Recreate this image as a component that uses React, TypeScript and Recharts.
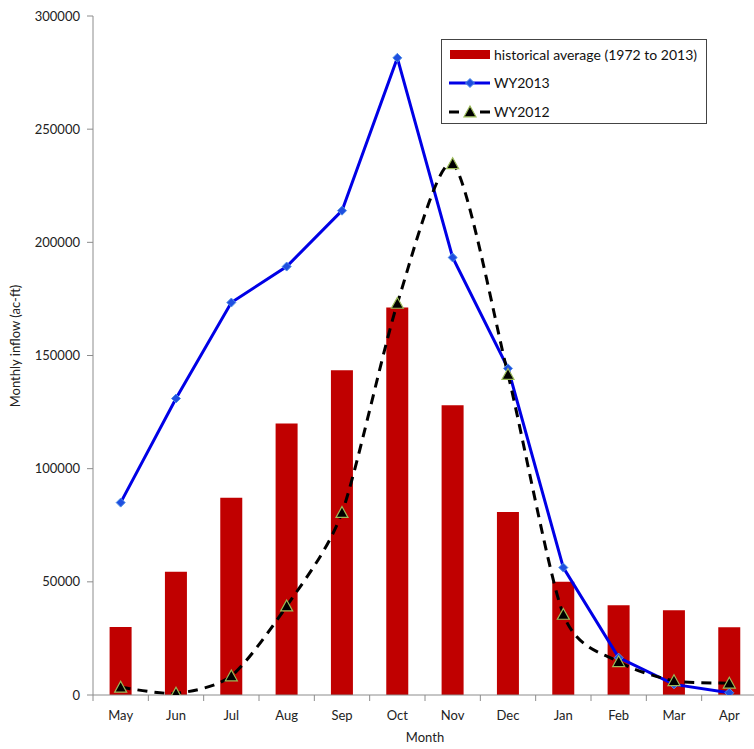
import React from "react";
import {
  ComposedChart,
  Bar,
  Line,
  XAxis,
  YAxis,
} from "recharts";

const months = ["May", "Jun", "Jul", "Aug", "Sep", "Oct", "Nov", "Dec", "Jan", "Feb", "Mar", "Apr"];
const historical = [30000, 54500, 87200, 120000, 143500, 171200, 128000, 80900, 50000, 39700, 37400, 29900];
const wy2013 = [85000, 131000, 173400, 189300, 214000, 281500, 193300, 144300, 56300, 16500, 4700, 1000];
const wy2012 = [3400, 750, 8400, 39300, 80600, 173000, 234700, 141600, 35600, 14700, 6300, 5200];
const yTicks = [0, 50000, 100000, 150000, 200000, 250000, 300000];

const data = months.map((m, i) => ({
  month: m,
  hist: historical[i],
  wy2013: wy2013[i],
  wy2012: wy2012[i],
}));

const CHART_W = 757;
const CHART_H = 749;
const Y_W = 93;
const BAND = (CHART_W - Y_W) / months.length;
const FONT = "Lato, 'Open Sans', sans-serif";
const SMOOTH = 1 / 8;

// Catmull-Rom style smoothing (like Excel's smoothed line)
function smoothCurve(context: any) {
  let pts: [number, number][] = [];
  return {
    areaStart() {},
    areaEnd() {},
    lineStart() {
      pts = [];
    },
    lineEnd() {
      if (pts.length === 0) return;
      context.moveTo(pts[0][0], pts[0][1]);
      for (let i = 0; i < pts.length - 1; i++) {
        const p0 = pts[i - 1] || pts[i];
        const p1 = pts[i];
        const p2 = pts[i + 1];
        const p3 = pts[i + 2] || pts[i + 1];
        const c1x = p1[0] + (p2[0] - p0[0]) * SMOOTH;
        const c1y = p1[1] + (p2[1] - p0[1]) * SMOOTH;
        const c2x = p2[0] - (p3[0] - p1[0]) * SMOOTH;
        const c2y = p2[1] - (p3[1] - p1[1]) * SMOOTH;
        context.bezierCurveTo(c1x, c1y, c2x, c2y, p2[0], p2[1]);
      }
    },
    point(x: number, y: number) {
      pts.push([+x, +y]);
    },
  };
}

const XTick = (props: any) => {
  const { x, y, payload, index } = props;
  const last = index === months.length - 1;
  return (
    <g>
      <line x1={x - BAND / 2} x2={x - BAND / 2} y1={y - 8} y2={y - 2} stroke="#8c8c8c" />
      {last && <line x1={x + BAND / 2} x2={x + BAND / 2} y1={y - 8} y2={y - 2} stroke="#8c8c8c" />}
      <text x={x} y={y + 17} textAnchor="middle" fontSize={13} fill="#222" fontFamily={FONT}>
        {payload.value}
      </text>
    </g>
  );
};

const Diamond = (props: any) => {
  const { cx, cy, index } = props;
  if (cx == null || cy == null) return <g key={`d${index}`} />;
  const r = 4.5;
  return (
    <path
      key={`d${index}`}
      d={`M${cx},${cy - r} L${cx + r},${cy} L${cx},${cy + r} L${cx - r},${cy} Z`}
      fill="#1f4fe0"
      stroke="#4f8fe8"
      strokeWidth={1}
    />
  );
};

const Triangle = (props: any) => {
  const { cx, cy, index } = props;
  if (cx == null || cy == null) return <g key={`t${index}`} />;
  const s = 6;
  return (
    <path
      key={`t${index}`}
      d={`M${cx},${cy - s} L${cx + s},${cy + s * 0.8} L${cx - s},${cy + s * 0.8} Z`}
      fill="#000"
      stroke="#9bbb59"
      strokeWidth={1.2}
    />
  );
};

const LegendBox = () => (
  <div
    style={{
      position: "absolute",
      left: 441,
      top: 39,
      width: 266,
      height: 85,
      border: "1px solid #444",
      background: "#fff",
      boxSizing: "border-box",
    }}
  >
    <svg width={266} height={85} style={{ position: "absolute", left: 0, top: 0 }}>
      <rect x={8} y={10} width={40} height={9} fill="#c00000" />
      <line x1={7} x2={48} y1={43} y2={43} stroke="#0000e6" strokeWidth={3} />
      <path d="M28,38.5 L32.5,43 L28,47.5 L23.5,43 Z" fill="#1f4fe0" stroke="#4f8fe8" />
      <line x1={7} x2={17} y1={72} y2={72} stroke="#000" strokeWidth={3} />
      <line x1={38} x2={48} y1={72} y2={72} stroke="#000" strokeWidth={3} />
      <path d="M28,66 L34,76.8 L22,76.8 Z" fill="#000" stroke="#9bbb59" strokeWidth={1.2} />
      <text x={52} y={19.5} fontSize={14} fill="#111" fontFamily={FONT}>historical average (1972 to 2013)</text>
      <text x={52} y={48} fontSize={14} fill="#111" fontFamily={FONT}>WY2013</text>
      <text x={52} y={77} fontSize={14} fill="#111" fontFamily={FONT}>WY2012</text>
    </svg>
  </div>
);

export default function App() {
  return (
    <div style={{ position: "absolute", left: 0, top: 0, width: 754, height: 749, overflow: "hidden", background: "#fff" }}>
      <ComposedChart
        width={CHART_W}
        height={CHART_H}
        data={data}
        margin={{ top: 16, right: 0, bottom: 0, left: 0 }}
        barCategoryGap="30%"
      >
        <XAxis
          dataKey="month"
          interval={0}
          tickLine={false}
          axisLine={{ stroke: "#8c8c8c" }}
          tick={<XTick />}
          height={54}
          label={{
            value: "Month",
            position: "insideBottom",
            offset: 7,
            fontSize: 13,
            fill: "#222",
            fontFamily: FONT,
          }}
        />
        <YAxis
          width={Y_W}
          domain={[0, 300000]}
          ticks={yTicks}
          interval={0}
          allowDataOverflow
          axisLine={{ stroke: "#8c8c8c" }}
          tickLine={{ stroke: "#8c8c8c" }}
          tickSize={6}
          tickMargin={7}
          tick={{ fontSize: 13, fill: "#222", fontFamily: FONT }}
          label={{
            content: () => (
              <text
                x={17}
                y={346}
                transform="rotate(-90 17 346)"
                textAnchor="middle"
                dominantBaseline="middle"
                fontSize={13}
                fill="#222"
                fontFamily={FONT}
              >
                Monthly inflow (ac-ft)
              </text>
            ),
          }}
        />
        <Bar dataKey="hist" fill="#c00000" isAnimationActive={false} />
        <Line
          type="linear"
          dataKey="wy2013"
          stroke="#0000e6"
          strokeWidth={3}
          dot={Diamond}
          activeDot={false}
          isAnimationActive={false}
        />
        <Line
          type={smoothCurve as any}
          dataKey="wy2012"
          stroke="#000"
          strokeWidth={3}
          strokeDasharray="10 7"
          dot={Triangle}
          activeDot={false}
          isAnimationActive={false}
        />
      </ComposedChart>
      <LegendBox />
    </div>
  );
}
